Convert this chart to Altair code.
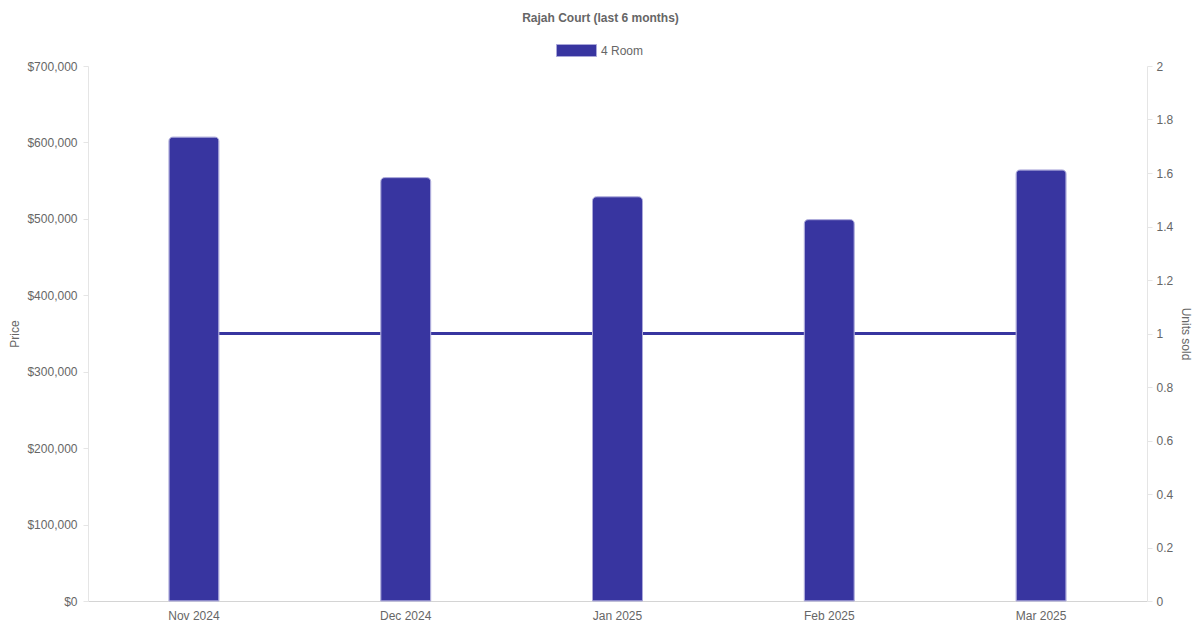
import altair as alt
import pandas as pd

months = ["Nov 2024", "Dec 2024", "Jan 2025", "Feb 2025", "Mar 2025"]
prices = [607000, 554000, 529000, 499000, 564000]
units_sold = [1, 1, 1, 1, 1]
series = ["4 Room"] * len(months)

df = pd.DataFrame({"Month": months, "Price": prices,
                   "Units": units_sold, "Type": series})

FONT = "Liberation Sans"
BAR = "#3835a0"

base = alt.Chart(df).encode(
    x=alt.X("Month:N", sort=months, title=None,
            scale=alt.Scale(paddingInner=0, paddingOuter=0),
            axis=alt.Axis(labelAngle=0, ticks=False, grid=False,
                          domainColor="#d4d4d4", labelPadding=9))
)

line = base.mark_line(color=BAR, strokeWidth=3).encode(
    y=alt.Y("Units:Q", title="Units sold",
            scale=alt.Scale(domain=[0, 2], nice=False),
            axis=alt.Axis(orient="right", values=[i / 5 for i in range(11)],
                          format="~g", grid=False, tickSize=5,
                          tickColor="#e5e5e5", domainColor="#e5e5e5",
                          labelPadding=4, titlePadding=6))
)

bars = base.mark_bar(width={"band": 0.236}, stroke="#a9a7d9", strokeWidth=1,
                     cornerRadiusTopLeft=4, cornerRadiusTopRight=4).encode(
    y=alt.Y("Price:Q", title="Price",
            scale=alt.Scale(domain=[0, 700000], nice=False),
            axis=alt.Axis(orient="left", values=list(range(0, 700001, 100000)),
                          format="$,.0f", tickSize=5, tickColor="#e5e5e5",
                          domainColor="#e5e5e5", gridColor="#e5e5e5",
                          labelPadding=6, titlePadding=5)),
    color=alt.Color("Type:N", scale=alt.Scale(range=[BAR]), title=None,
                    legend=alt.Legend(orient="none", legendX=468, legendY=-36,
                                      symbolType="M-1,-0.3H1V0.3H-1Z",
                                      symbolSize=1600, symbolStrokeColor="#a9a7d9",
                                      symbolStrokeWidth=1, symbolOpacity=1,
                                      labelOffset=4))
)

chart = alt.layer(line, bars).resolve_scale(y="independent").properties(
    width=1059, height=535,
    title=alt.TitleParams("Rajah Court (last 6 months)", fontSize=12,
                          fontWeight="bold", color="#666", font=FONT,
                          anchor="middle", dx=-17, offset=5),
    autosize=alt.AutoSizeParams(type="none"),
    padding={"left": 80, "top": 58, "right": 45, "bottom": 21},
).configure_view(stroke=None).configure_axis(
    labelFont=FONT, titleFont=FONT, labelFontSize=12, titleFontSize=12,
    labelColor="#666", titleColor="#666", titleFontWeight="normal"
).configure_legend(labelFont=FONT, labelFontSize=12, labelColor="#666")

chart.save("out.html", embed_options={"renderer": "svg", "actions": False})
